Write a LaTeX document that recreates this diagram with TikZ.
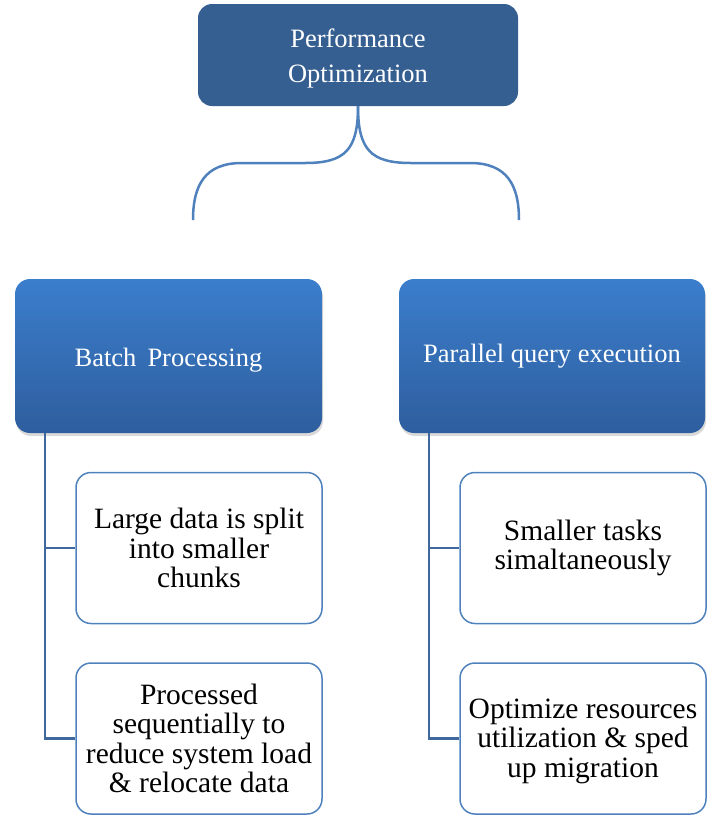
\documentclass[tikz,border=0pt]{standalone}
\usepackage{fontspec}
\setmainfont{Liberation Serif}
\usetikzlibrary{shadows,calc}
\definecolor{topblue}{RGB}{54,95,145}
\definecolor{gradtop}{RGB}{59,126,204}
\definecolor{gradbot}{RGB}{46,94,158}
\definecolor{linkblue}{RGB}{79,129,189}
\definecolor{stemblue}{RGB}{62,104,158}
\tikzset{
  topbox/.style={rectangle, rounded corners=14pt, fill=topblue, text=white,
    minimum width=320pt, minimum height=102pt, inner sep=0pt, align=center},
  toptext/.style={text=white, align=center, inner sep=0pt,
    font=\fontsize{26.5}{35}\selectfont},
  catbox/.style={rectangle, rounded corners=15pt, top color=gradtop, bottom color=gradbot,
    draw=none, minimum height=154pt, inner sep=0pt,
    drop shadow={opacity=0.3, shadow xshift=1pt, shadow yshift=-3pt}},
  cattext/.style={text=white, align=center, inner sep=0pt,
    font=\fontsize{26.5}{30}\selectfont},
  leafbox/.style={rectangle, rounded corners=15pt, draw=linkblue, line width=1.5pt, fill=white,
    minimum width=246pt, minimum height=151pt, inner sep=0pt, align=center, text=black,
    font=\fontsize{29.5}{29.5}\selectfont},
  brace/.style={draw=linkblue, line width=2.5pt},
  stem/.style={draw=stemblue, line width=2.2pt}
}
\begin{document}
\begin{tikzpicture}[x=1pt,y=-1pt]
\useasboundingbox (0,0) rectangle (710,815);
\node[topbox] (top) at (358,55) {};
\node[toptext] (toplabel) at (358,58) {Performance\\Optimization};
\coordinate (bl) at (193,220);
\coordinate (br) at (519,220);
\draw[brace] (top.south) .. controls (358,150) and (345,163) .. (305,163)
  -- (242,163) .. controls (205,163) and (193,185) .. (bl);
\draw[brace] (top.south) .. controls (358,150) and (371,163) .. (411,163)
  -- (470,163) .. controls (507,163) and (519,185) .. (br);

\node[catbox, minimum width=307pt] (lb) at (168.5,356) {};
\node[cattext] (lbt) at (168.5,360) {Batch\, Processing};
\node[catbox, minimum width=306pt] (rb) at (552,356) {};
\node[cattext] (rbt) at (552,356) {Parallel query execution};

\node[leafbox] (lw1) at (199,548) {Large data is split\\into smaller\\chunks};
\node[leafbox] (lw2) at (199,738.5) {Processed\\sequentially to\\reduce system load\\\& relocate data};
\node[leafbox] (rw1) at (583,548) {Smaller tasks\\simaltaneously};
\node[leafbox] (rw2) at (583,738.5) {};
\node[align=center, inner sep=0pt, font=\fontsize{29.5}{29.5}\selectfont] (rw2t) at (583,741)
  {Optimize resources\\utilization \& sped\\up migration};

\coordinate (ls) at ($(lb.south west)+(30,0)$);
\coordinate (rs) at ($(rb.south west)+(30,0)$);
\draw[stem] (ls) |- (lw1.west);
\draw[stem] (ls) |- (lw2.west);
\draw[stem] (rs) |- (rw1.west);
\draw[stem] (rs) |- (rw2.west);
\end{tikzpicture}
\end{document}
